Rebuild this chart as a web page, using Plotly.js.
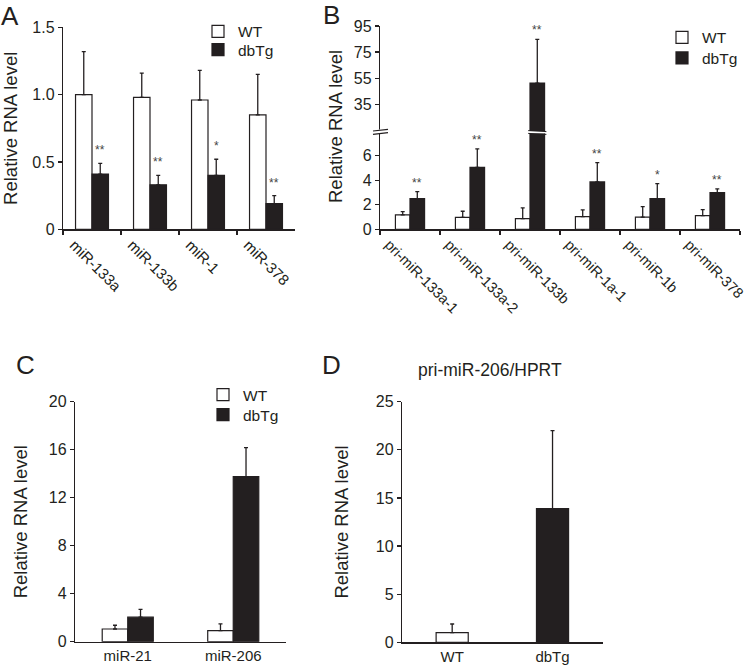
<!DOCTYPE html>
<html>
<head>
<meta charset="utf-8">
<script src="https://cdn.plot.ly/plotly-3.0.1.min.js"></script>
<style>html,body{margin:0;padding:0;background:#fff}#chart{width:750px;height:668px}</style>
</head>
<body>
<div id="chart"></div>
<script>
// ---------- Data ----------
const seriesNames = ['WT', 'dbTg'];

// Panel A
const aCats = ['miR-133a', 'miR-133b', 'miR-1', 'miR-378'];
const aWT = [1.00, 0.98, 0.96, 0.85];
const aWTerr = [0.32, 0.18, 0.22, 0.30];
const aTg = [0.41, 0.33, 0.40, 0.19];
const aTgErr = [0.08, 0.07, 0.12, 0.06];
const aStars = ['**', '**', '*', '**'];
const aTickVals = [0, 0.5, 1, 1.5];
const aTickText = ['0', '0.5', '1.0', '1.5'];

// Panel B (broken axis)
const bCats = ['pri-miR-133a-1', 'pri-miR-133a-2', 'pri-miR-133b', 'pri-miR-1a-1', 'pri-miR-1b', 'pri-miR-378'];
const bWT = [1.17, 0.98, 0.87, 1.03, 1.00, 1.11];
const bWTerr = [0.27, 0.49, 0.87, 0.55, 0.85, 0.49];
const bTg = [2.50, 5.05, 51.3, 3.86, 2.50, 2.99];
const bTgErr = [0.57, 1.50, 33.5, 1.57, 1.22, 0.30];
const bStars = ['**', '**', '**', '**', '*', '**'];
const bLowTicks = [0, 2, 4, 6];
const bHighTicks = [35, 55, 75, 95];

// Panel C
const cCats = ['miR-21', 'miR-206'];
const cWT = [1.06, 0.92];
const cWTerr = [0.31, 0.56];
const cTg = [2.04, 13.75];
const cTgErr = [0.66, 2.43];
const cTicks = [0, 4, 8, 12, 16, 20];

// Panel D
const dCats = ['WT', 'dbTg'];
const dVals = [1.0, 13.9];
const dErr = [0.9, 8.1];
const dTicks = [0, 5, 10, 15, 20, 25];
const dTitle = 'pri-miR-206/HPRT';

const yTitle = 'Relative RNA level';
const panelLabels = ['A', 'B', 'C', 'D'];

// ---------- Style ----------
const INK = '#231f20';
const FONT = 'Liberation Sans, Arial, Helvetica, sans-serif';
const W = 750, H = 668;
const px = v => v / W;
const py = v => 1 - v / H;

function errUp(arr) {
  return {type: 'data', array: arr, arrayminus: arr.map(() => 0), symmetric: false,
          color: INK, thickness: 1.3, width: 2};
}
function barTrace(cats, vals, errs, name, fill, xa, ya, offset, width, legend, showlegend) {
  return {type: 'bar', x: cats, y: vals, name: name, xaxis: xa, yaxis: ya,
          offset: offset, width: width, legend: legend, showlegend: showlegend,
          marker: {color: fill, line: {color: INK, width: 1.2}},
          error_y: errUp(errs), hoverinfo: 'skip'};
}

const aW = 0.284, bW = 0.243, cW = 0.242, dW = 0.32;
const traces = [
  barTrace(aCats, aWT, aWTerr, seriesNames[0], '#ffffff', 'x', 'y', -aW, aW, 'legend', true),
  barTrace(aCats, aTg, aTgErr, seriesNames[1], INK, 'x', 'y', 0, aW, 'legend2', true),
  barTrace(bCats, bWT, bWTerr, seriesNames[0], '#ffffff', 'x2', 'y2', -bW, bW, 'legend3', true),
  barTrace(bCats, bTg, bTgErr, seriesNames[1], INK, 'x2', 'y2', 0, bW, 'legend4', true),
  barTrace(bCats, bWT, bWTerr, seriesNames[0], '#ffffff', 'x2', 'y3', -bW, bW, 'legend3', false),
  barTrace(bCats, bTg, bTgErr, seriesNames[1], INK, 'x2', 'y3', 0, bW, 'legend4', false),
  barTrace(cCats, cWT, cWTerr, seriesNames[0], '#ffffff', 'x3', 'y4', -cW, cW, 'legend5', true),
  barTrace(cCats, cTg, cTgErr, seriesNames[1], INK, 'x3', 'y4', 0, cW, 'legend6', true),
  {type: 'bar', x: dCats, y: dVals, xaxis: 'x4', yaxis: 'y5', offset: -dW / 2, width: dW,
   showlegend: false, marker: {color: ['#ffffff', INK], line: {color: INK, width: 1.2}},
   error_y: errUp(dErr), hoverinfo: 'skip'}
];

const tickFont = {family: FONT, size: 16, color: INK};
const xTickFont = {family: FONT, size: 15, color: INK};
function xAxis(dom, anchor, n, extra) {
  return Object.assign({domain: dom, anchor: anchor, type: 'category', range: [-0.5, n - 0.5],
    showline: true, linecolor: INK, linewidth: 1.2, showgrid: false, zeroline: false,
    ticks: 'outside', ticklen: 4, tickcolor: INK, tickwidth: 1.2, tickson: 'boundaries',
    tickfont: xTickFont, fixedrange: true}, extra || {});
}
function yAxis(dom, anchor, range, tv, tt, extra) {
  return Object.assign({domain: dom, anchor: anchor, range: range, tickmode: 'array',
    tickvals: tv, ticktext: tt || tv.map(String), showline: true, linecolor: INK, linewidth: 1.2,
    showgrid: false, zeroline: false, ticks: 'outside', ticklen: 4, tickcolor: INK, tickwidth: 1.2,
    tickfont: tickFont, fixedrange: true}, extra || {});
}
const titleFont = {family: FONT, size: 18.5, color: INK};
const yTitleObj = s => ({text: yTitle, font: titleFont, standoff: s});

const bLowTop = 7.81, bHighBot = 14.6, bHighTop = 95.2;
const legFont = {family: FONT, size: 15.5, color: INK};
function leg(textX, cy) {
  return {x: px(textX - 40), y: py(cy), xanchor: 'left', yanchor: 'middle', font: legFont,
          bgcolor: 'rgba(0,0,0,0)', borderwidth: 0};
}

const layout = {
  width: W, height: H, margin: {l: 0, r: 0, t: 0, b: 0},
  paper_bgcolor: '#ffffff', plot_bgcolor: 'rgba(0,0,0,0)',
  font: {family: FONT, color: INK},
  xaxis: xAxis([px(63), px(295)], 'y', aCats.length, {tickangle: 45, ticklabelshift: -18}),
  yaxis: yAxis([py(229.3), py(27.3)], 'x', [0, 1.5], aTickVals, aTickText, {title: yTitleObj(12)}),
  xaxis2: xAxis([px(380), px(740)], 'y2', bCats.length,
    {tickangle: 45, ticklabelshift: -21, tickfont: {family: FONT, size: 14.5, color: INK}}),
  yaxis2: yAxis([py(229.3), py(133.5)], 'x2', [0, bLowTop], bLowTicks),
  yaxis3: yAxis([py(131), py(25.7)], 'x2', [bHighBot, bHighTop], bHighTicks),
  xaxis3: xAxis([px(75), px(286)], 'y4', cCats.length, {ticks: ''}),
  yaxis4: yAxis([py(641.7), py(401.7)], 'x3', [0, 20], cTicks, null, {title: yTitleObj(16)}),
  xaxis4: xAxis([px(402), px(602.7)], 'y5', dCats.length, {ticks: ''}),
  yaxis5: yAxis([py(642.3), py(401.7)], 'x4', [0, 25], dTicks, null, {title: yTitleObj(22)}),
  legend: leg(238, 31.7),
  legend2: leg(238, 50),
  legend3: leg(702, 37.7),
  legend4: leg(702, 58.3),
  legend5: leg(243, 395),
  legend6: leg(243, 415),
  annotations: [],
  shapes: [],
  bargap: 0
};

// significance stars
const starFont = {family: FONT, size: 12, color: '#444'};
aCats.forEach((c, i) => layout.annotations.push({xref: 'x', yref: 'y', x: c, y: aTg[i] + aTgErr[i],
  text: aStars[i], showarrow: false, xshift: 8, yanchor: 'bottom', yshift: 4, font: starFont}));
bCats.forEach((c, i) => {
  const top = bTg[i] + bTgErr[i];
  layout.annotations.push({xref: 'x2', yref: top > bLowTop ? 'y3' : 'y2', x: c, y: top,
    text: bStars[i], showarrow: false, xshift: 7, yanchor: 'bottom', yshift: 0, font: starFont});
});

// panel letters
const letterPos = [[10, 16], [331, 15], [25, 365], [331, 365]];
panelLabels.forEach((t, i) => layout.annotations.push({xref: 'paper', yref: 'paper',
  x: px(letterPos[i][0]), y: py(letterPos[i][1]), xanchor: 'center', yanchor: 'middle',
  text: t, showarrow: false, font: {family: FONT, size: 26, color: INK}}));

// B y-axis title (spans broken axis)
layout.annotations.push({xref: 'paper', yref: 'paper', x: px(336), y: py(127), xanchor: 'center', yanchor: 'middle',
  text: yTitle, textangle: -90, showarrow: false, font: titleFont});
// D title
layout.annotations.push({xref: 'paper', yref: 'paper', x: px(490), y: py(370), xanchor: 'center', yanchor: 'middle',
  text: dTitle, showarrow: false, font: {family: FONT, size: 17.5, color: INK}});

// axis break marks on B
layout.shapes.push({type: 'rect', xref: 'paper', yref: 'paper', x0: px(374), x1: px(387), y0: py(134), y1: py(129.5),
  fillcolor: '#fff', line: {width: 0}});
layout.shapes.push({type: 'line', xref: 'paper', yref: 'paper', x0: px(373), x1: px(388), y0: py(131), y1: py(129.3), line: {color: INK, width: 1.2}});
layout.shapes.push({type: 'line', xref: 'paper', yref: 'paper', x0: px(373), x1: px(388), y0: py(134.3), y1: py(132.6), line: {color: INK, width: 1.2}});
// break lines across the tall bar
const bigIdx = bTg.indexOf(Math.max(...bTg));
[[130.6, 131.6], [133.4, 134.4]].forEach(([yl, yr]) => layout.shapes.push({type: 'line', xref: 'x2', yref: 'paper',
  x0: bigIdx - 0.03, x1: bigIdx + bW + 0.03, y0: py(yl), y1: py(yr), line: {color: INK, width: 1}}));

Plotly.newPlot('chart', traces, layout, {displayModeBar: false, staticPlot: true});
</script>
</body>
</html>
